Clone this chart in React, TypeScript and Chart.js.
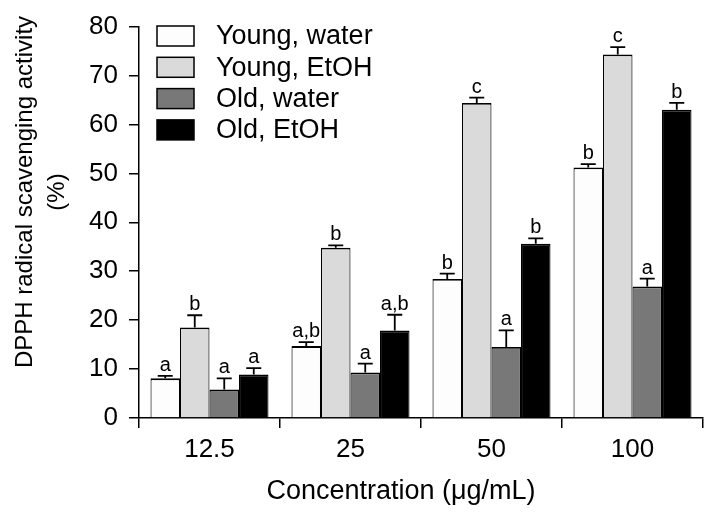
import React, { useEffect, useRef } from "react";
import { Chart, registerables } from "chart.js";

Chart.register(...registerables);

const FONT = "'Liberation Sans', Arial, Helvetica, sans-serif";

const categories = ["12.5", "25", "50", "100"];
const seriesNames = ["Young, water", "Young, EtOH", "Old, water", "Old, EtOH"];
const seriesColors = ["#fdfdfd", "#dadada", "#787878", "#000000"];

const youngWater = [8.1, 14.7, 28.4, 51.2];
const youngEtOH = [18.5, 34.8, 64.4, 74.3];
const oldWater = [5.8, 9.3, 14.5, 26.9];
const oldEtOH = [8.9, 17.9, 35.6, 63.0];

const youngWaterErr = [0.5, 0.8, 1.1, 0.7];
const youngEtOHErr = [2.5, 0.5, 1.1, 1.5];
const oldWaterErr = [2.3, 1.8, 3.4, 1.6];
const oldEtOHErr = [1.3, 3.2, 1.1, 1.4];

const youngWaterLetters = ["a", "a,b", "b", "b"];
const youngEtOHLetters = ["b", "b", "c", "c"];
const oldWaterLetters = ["a", "a", "a", "a"];
const oldEtOHLetters = ["a", "a,b", "b", "b"];

const yMin = 0;
const yMax = 80;
const yStep = 10;

const xTitle = "Concentration (\u03bcg/mL)";
const yTitle = ["DPPH radical scavenging activity", "(%)"];

const seriesValues = [youngWater, youngEtOH, oldWater, oldEtOH];
const seriesErrors = [youngWaterErr, youngEtOHErr, oldWaterErr, oldEtOHErr];
const seriesLetters = [youngWaterLetters, youngEtOHLetters, oldWaterLetters, oldEtOHLetters];

const annotationsPlugin = {
  id: "annotations",
  afterDatasetsDraw(chart: any) {
    const ctx = chart.ctx;
    const yScale = chart.scales.y;
    ctx.save();
    chart.data.datasets.forEach((ds: any, i: number) => {
      const meta = chart.getDatasetMeta(i);
      meta.data.forEach((el: any, j: number) => {
        const v = seriesValues[i][j];
        const e = seriesErrors[i][j];
        const top = yScale.getPixelForValue(v);
        const errTop = yScale.getPixelForValue(v + e);
        ctx.strokeStyle = "#000";
        ctx.lineWidth = 1.8;
        ctx.beginPath();
        ctx.moveTo(el.x, top);
        ctx.lineTo(el.x, errTop);
        ctx.moveTo(el.x - 7.5, errTop);
        ctx.lineTo(el.x + 7.5, errTop);
        ctx.stroke();
        ctx.fillStyle = "#000";
        ctx.font = `20px ${FONT}`;
        ctx.textAlign = "center";
        ctx.textBaseline = "alphabetic";
        ctx.fillText(seriesLetters[i][j], el.x, errTop - 5);
      });
    });
    ctx.restore();
  },
  afterDraw(chart: any) {
    const ctx = chart.ctx;
    ctx.save();
    // legend
    chart.data.datasets.forEach((ds: any, i: number) => {
      const rowTop = 26 + i * 31.3;
      ctx.fillStyle = ds.backgroundColor;
      ctx.fillRect(157, rowTop, 37, 20);
      ctx.strokeStyle = "#000";
      ctx.lineWidth = 1.5;
      ctx.strokeRect(157, rowTop, 37, 20);
      ctx.fillStyle = "#000";
      ctx.font = `27px ${FONT}`;
      ctx.textAlign = "left";
      ctx.textBaseline = "middle";
      ctx.fillText(ds.label, 216, rowTop + 11);
    });
    // axis titles
    ctx.fillStyle = "#000";
    ctx.textAlign = "center";
    ctx.textBaseline = "middle";
    ctx.font = `27px ${FONT}`;
    ctx.fillText(xTitle, 401, 492);
    ctx.font = `24px ${FONT}`;
    ctx.translate(0, 192);
    ctx.rotate(-Math.PI / 2);
    ctx.fillText(yTitle[0], 0, 25);
    ctx.fillText(yTitle[1], 0, 57);
    ctx.restore();
  },
};

export default function App() {
  const ref = useRef<HTMLCanvasElement>(null);
  useEffect(() => {
    if (!ref.current) return;
    const chart = new Chart(ref.current, {
      type: "bar",
      data: {
        labels: categories,
        datasets: seriesNames.map((name, i) => ({
          label: name,
          data: seriesValues[i],
          backgroundColor: seriesColors[i],
          borderColor: "#000",
          borderWidth: { top: 1.8, left: 1.1, right: 1.1, bottom: 0 },
          borderSkipped: false,
          categoryPercentage: 0.837,
          barPercentage: 1,
        })),
      },
      options: {
        responsive: false,
        animation: false,
        devicePixelRatio: 1,
        layout: { padding: { left: 0, right: 16, top: 25, bottom: 0 } },
        plugins: {
          legend: { display: false },
          tooltip: { enabled: false },
        },
        scales: {
          x: {
            grid: {
              display: true,
              drawOnChartArea: false,
              drawTicks: true,
              tickLength: 10,
              color: "#000",
              lineWidth: 1.5,
              offset: true,
            },
            border: { display: true, color: "#000", width: 1.5 },
            ticks: {
              color: "#000",
              font: { family: FONT, size: 26 },
              padding: 6,
            },
            afterFit(scale: any) {
              scale.height = 104;
            },
          },
          y: {
            min: yMin,
            max: yMax,
            grid: {
              display: true,
              drawOnChartArea: false,
              drawTicks: true,
              tickLength: 10,
              color: "#000",
              lineWidth: 1.5,
            },
            border: { display: true, color: "#000", width: 1.5 },
            ticks: {
              stepSize: yStep,
              color: "#000",
              font: { family: FONT, size: 26 },
              padding: 11,
            },
            afterFit(scale: any) {
              scale.width = 139;
            },
          },
        },
      },
      plugins: [annotationsPlugin],
    } as any);
    return () => chart.destroy();
  }, []);
  return (
    <div style={{ position: "fixed", left: 0, top: 0, width: 719, height: 522, background: "#fff" }}>
      <canvas ref={ref} width={719} height={522} />
    </div>
  );
}
